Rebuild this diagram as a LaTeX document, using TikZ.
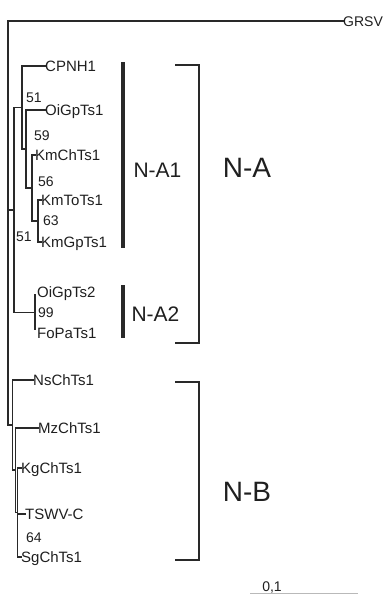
\documentclass[tikz,border=0pt]{standalone}
\usepackage{fontspec}
\setmainfont{Liberation Sans}
\definecolor{textc}{rgb}{0.12,0.12,0.12}
\definecolor{linec}{rgb}{0.16,0.16,0.16}
\begin{document}
\begin{tikzpicture}[x=1pt,y=-1pt,
  br/.style={draw=linec, line width=1.3pt, line cap=rect},
  leaf/.style={anchor=west, inner sep=0pt, text height=10.7pt, text depth=0pt, font=\fontsize{15}{15}\selectfont, text=textc},
  boot/.style={anchor=west, inner sep=0pt, text height=10pt, text depth=0pt, font=\fontsize{14}{14}\selectfont, text=textc},
  sublab/.style={inner sep=0pt, font=\fontsize{21}{21}\selectfont, text=textc},
  grplab/.style={inner sep=0pt, font=\fontsize{28}{28}\selectfont, text=textc},
  bar/.style={draw=linec, line width=3.5pt},
  brk/.style={draw=linec, line width=1.6pt},
  scalebar/.style={draw=gray!55, line width=1.3pt}]
\useasboundingbox (0,0) rectangle (387,595);

% leaf labels
\node[leaf,font=\fontsize{14}{14}\selectfont] (GRSV) at (343,21) {GRSV};
\node[leaf] (CPNH1) at (45,66) {CPNH1};
\node[leaf] (OiGpTs1) at (45,110) {OiGpTs1};
\node[leaf] (KmChTs1) at (35,155) {KmChTs1};
\node[leaf] (KmToTs1) at (41,200) {KmToTs1};
\node[leaf] (KmGpTs1) at (41,242) {KmGpTs1};
\node[leaf] (OiGpTs2) at (37,292) {OiGpTs2};
\node[leaf] (FoPaTs1) at (37,333) {FoPaTs1};
\node[leaf] (NsChTs1) at (33,380) {NsChTs1};
\node[leaf] (MzChTs1) at (38,428) {MzChTs1};
\node[leaf] (KgChTs1) at (21,468) {KgChTs1};
\node[leaf] (TSWVC) at (25,514) {TSWV-C};
\node[leaf] (SgChTs1) at (21,557) {SgChTs1};

% internal nodes
\coordinate (a4) at (38,221);
\coordinate (a3) at (32,188);
\coordinate (a2) at (26,149);
\coordinate (a1) at (22,107.5);
\coordinate (nA2) at (35,312.5);
\coordinate (nA) at (14,210);
\coordinate (b2) at (17.5,512.5);
\coordinate (b1) at (15.5,470);
\coordinate (b0) at (12.5,425);
\coordinate (rt) at (8,222);

% root and outgroup
\draw[br] (GRSV.west) -| (rt |- b0) -- (b0);
\draw[br] (rt |- nA) -- (nA);
% N-A
\draw[br] (nA |- a1) -- (nA |- nA2);
\draw[br] (nA |- a1) -- (a1);
\draw[br] (nA |- nA2) -- (nA2);
\draw[br] (a1 |- CPNH1.west) -- (a1 |- a2);
\draw[br] (a1 |- CPNH1.west) -- (CPNH1.west);
\draw[br] (a1 |- a2) -- (a2);
\draw[br] (a2 |- OiGpTs1.west) -- (a2 |- a3);
\draw[br] (a2 |- OiGpTs1.west) -- (OiGpTs1.west);
\draw[br] (a2 |- a3) -- (a3);
\draw[br] (a3 |- KmChTs1.west) -- (a3 |- a4);
\draw[br] (a3 |- KmChTs1.west) -- (KmChTs1.west);
\draw[br] (a3 |- a4) -- (a4);
\draw[br] (a4 |- KmToTs1.west) -- (a4 |- KmGpTs1.west);
\draw[br] (a4 |- KmToTs1.west) -- (KmToTs1.west);
\draw[br] (a4 |- KmGpTs1.west) -- (KmGpTs1.west);
\draw[br] ([yshift=-3pt]nA2 |- OiGpTs2.west) -- ([yshift=4pt]nA2 |- FoPaTs1.west);
% N-B
\draw[br] (b0 |- NsChTs1.west) -- (b0 |- b1);
\draw[br] (b0 |- NsChTs1.west) -- (NsChTs1.west);
\draw[br] (b0 |- b1) -- (b1);
\draw[br] (b1 |- MzChTs1.west) -- (b1 |- b2);
\draw[br] (b1 |- MzChTs1.west) -- (MzChTs1.west);
\draw[br] (b1 |- b2) -- (b2);
\draw[br] (b2 |- KgChTs1.west) -- (b2 |- SgChTs1.west);
\draw[br] (b2 |- KgChTs1.west) -- (KgChTs1.west);
\draw[br] (b2 |- TSWVC.west) -- (TSWVC.west);
\draw[br] (b2 |- SgChTs1.west) -- (SgChTs1.west);

% bootstrap values
\node[boot] (bs1) at (26,97) {51};
\node[boot] (bs2) at (34,135) {59};
\node[boot] (bs3) at (38,181) {56};
\node[boot] (bs4) at (43,220) {63};
\node[boot] (bs5) at (16,236) {51};
\node[boot] (bs6) at (38,312) {99};
\node[boot] (bs7) at (26,537) {64};

% subgroup bars
\coordinate (A1top) at (123,62);
\coordinate (A1bot) at (123,248);
\coordinate (A2top) at (123,285);
\coordinate (A2bot) at (123,338);
\draw[bar] (A1top) -- (A1bot);
\draw[bar] (A2top) -- (A2bot);
\node[sublab] (NA1) at (157.5,170) {N-A1};
\node[sublab] (NA2) at (155.5,314) {N-A2};

% group brackets
\coordinate (Atl) at (175,65);
\coordinate (Atr) at (199,65);
\coordinate (Abr) at (199,343);
\coordinate (Abl) at (175,343);
\draw[brk] (Atl) -- (Atr) -- (Abr) -- (Abl);
\coordinate (Btl) at (175,382);
\coordinate (Btr) at (199,382);
\coordinate (Bbr) at (199,560);
\coordinate (Bbl) at (175,560);
\draw[brk] (Btl) -- (Btr) -- (Bbr) -- (Bbl);
\node[grplab] (NA) at (247,168) {N-A};
\node[grplab] (NB) at (247,492) {N-B};

% scale bar
\coordinate (s0) at (250,593.5);
\coordinate (s1) at (358,593.5);
\draw[scalebar] (s0) -- (s1);
\node[boot, anchor=base] (scl) at (272,591) {0,1};
\end{tikzpicture}
\end{document}
